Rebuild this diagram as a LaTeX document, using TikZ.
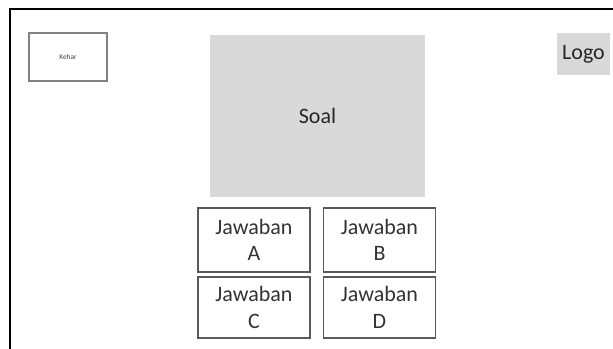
\documentclass[tikz,border=0pt]{standalone}
\usepackage{fontspec}
\setmainfont{Carlito}
\begin{document}
\begin{tikzpicture}[x=0.75pt,y=-0.75pt,
  grey box/.style={fill=black!15,inner sep=0pt,font=\fontsize{16.5}{20}\selectfont,text=black!85},
  answer/.style={draw=black!65,line width=0.9pt,inner sep=0pt,align=center,
    minimum width=84pt,font=\fontsize{16.5}{20}\selectfont,text=black!80}]
  \useasboundingbox (0,0) rectangle (613,349);
  \draw[line width=1.3pt] (613,9) -| (10,349);
  \node[draw=black!50,line width=0.8pt,minimum width=58.5pt,minimum height=36pt,
    inner sep=0pt,font=\fontsize{5.5}{6}\selectfont,text=black!75] (kehar) at (68,57) {Kehar};
  \node[grey box,minimum width=161.25pt,minimum height=121.5pt] (soal) at (317.5,116) {Soal};
  \node[grey box,minimum width=39.75pt,minimum height=31.5pt] (logo) at (583.5,54) {Logo};
  \node[answer,minimum height=48pt] (jawabA) at (254,240) {Jawaban\\A};
  \node[answer,minimum height=48pt] (jawabB) at (379.5,240) {Jawaban\\B};
  \node[answer,minimum height=45.75pt] (jawabC) at (254,307.5) {Jawaban\\C};
  \node[answer,minimum height=45.75pt] (jawabD) at (379.5,307.5) {Jawaban\\D};
\end{tikzpicture}
\end{document}
